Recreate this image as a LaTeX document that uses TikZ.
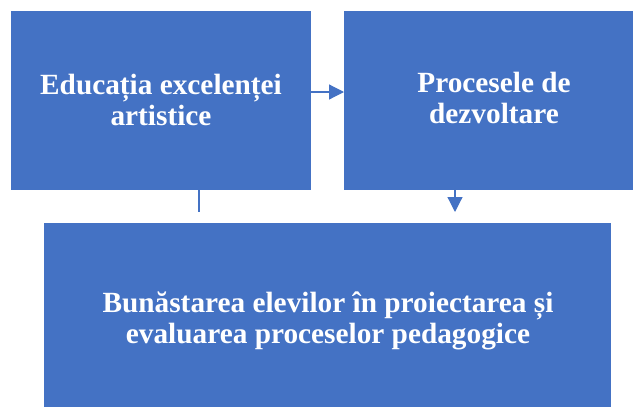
\documentclass[tikz,border=0pt]{standalone}
\usepackage{fontspec}
\setmainfont{Liberation Serif}
\usetikzlibrary{arrows.meta}
\definecolor{boxblue}{HTML}{4472C4}
\tikzset{
  box/.style={fill=boxblue, draw=none, inner sep=0pt, outer sep=0pt},
  txt/.style={text=white, font=\fontsize{29.3}{31}\selectfont\bfseries, align=center, anchor=base, inner sep=0pt},
  conn/.style={draw=boxblue, line width=1.2pt},
  arr/.style={conn, -{Triangle[length=15pt,width=15pt]}}
}
\begin{document}
\begin{tikzpicture}[x=1pt,y=-1pt]
\useasboundingbox (0,0) rectangle (633,407);
\clip (0,0) rectangle (633,407);
\node[box, minimum width=300pt, minimum height=179pt, anchor=north west] (L) at (11,11) {};
\node[box, minimum width=300pt, minimum height=179pt, anchor=north west] (R) at (344,11) {};
\node[box, minimum width=567pt, minimum height=200pt, anchor=north west] (B) at (44,223) {};
\node[txt] (tL) at (161,125) {Educația excelenței\\artistice};
\node[txt] (tR) at (494,123) {Procesele de\\dezvoltare};
\node[txt] (tB) at (328,343) {Bunăstarea elevilor în proiectarea și\\evaluarea proceselor pedagogice};
\coordinate (a1) at (0,92);
\coordinate (e1) at (199,212);
\coordinate (e2) at (455,212);
\draw[arr] (L.east |- a1) -- (R.west |- a1);
\draw[conn] (L.south -| e1) -- (e1);
\draw[arr] (R.south -| e2) -- (e2);
\end{tikzpicture}
\end{document}
